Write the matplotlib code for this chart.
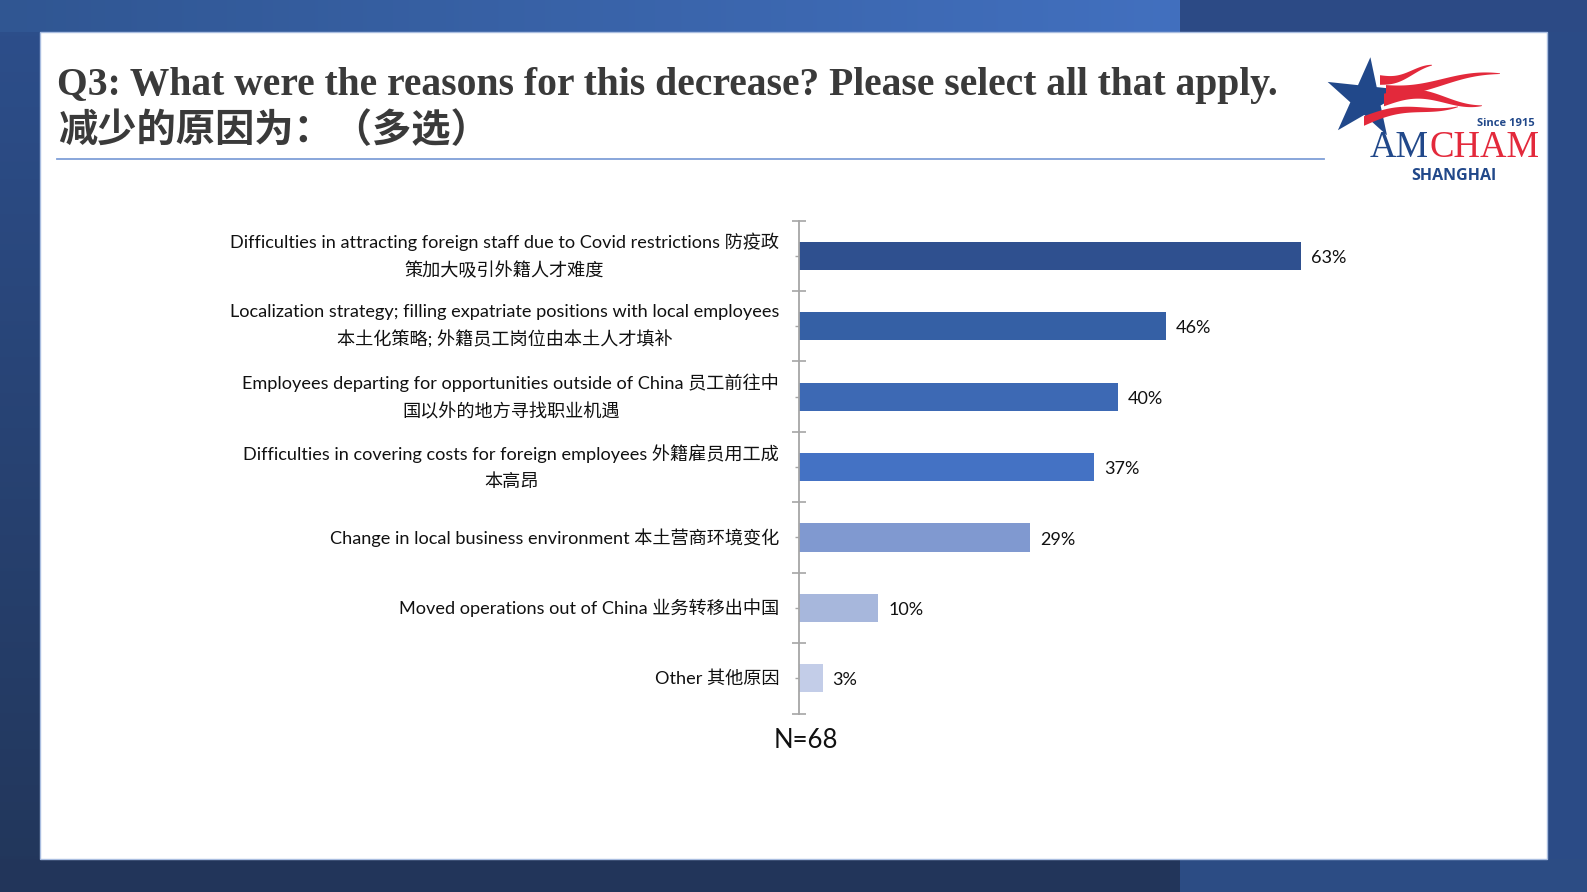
import numpy as np
import matplotlib
matplotlib.use("Agg")
from matplotlib import pyplot as plt
from matplotlib.patches import Rectangle, Polygon

# ---- data ----
reasons = [
    "Difficulties in attracting foreign staff due to Covid restrictions 防疫政\n策加大吸引外籍人才难度",
    "Localization strategy; filling expatriate positions with local employees\n本土化策略; 外籍员工岗位由本土人才填补",
    "Employees departing for opportunities outside of China 员工前往中\n国以外的地方寻找职业机遇",
    "Difficulties in covering costs for foreign employees 外籍雇员用工成\n本高昂",
    "Change in local business environment 本土营商环境变化",
    "Moved operations out of China 业务转移出中国",
    "Other 其他原因",
]
shares = [63, 46, 40, 37, 29, 10, 3]
bar_colors = ["#2f508f", "#3560a5", "#3d69b4", "#4472c4", "#8099d0", "#a7b7dc", "#c3cde8"]
sample_note = "N=68"
title_en = "Q3: What were the reasons for this decrease? Please select all that apply."
title_cn = "减少的原因为：（多选）"

W, H = 1587, 892
LAT = ["Lato", "Noto Sans CJK SC", "DejaVu Sans"]
fig = plt.figure(figsize=(W / 100, H / 100), dpi=100)

# ---- slide background (pixel coords) ----
bg = fig.add_axes([0, 0, 1, 1])
bg.set_xlim(0, W)
bg.set_ylim(H, 0)
bg.axis("off")


def hexrgb(h):
    h = h.lstrip("#")
    return np.array([int(h[i:i + 2], 16) / 255 for i in (0, 2, 4)])


yy = np.linspace(0, 1, H)[:, None, None]
img = hexrgb("#2d4f8c") * (1 - yy) + hexrgb("#22365a") * yy
img = np.repeat(img, W, axis=1)
xx = np.linspace(0, 1, 1180)[None, :, None]
img[:32, :1180] = hexrgb("#305692") * (1 - xx) + hexrgb("#4270bf") * xx
img[:32, 1180:] = hexrgb("#2c4a85")
img[859:, 1180:] = hexrgb("#2c4c84")
img[859:, :1180] = hexrgb("#22355a")
img[32:859, 1547:] = hexrgb("#2b4b86")
bg.imshow(img, extent=(0, W, H, 0), aspect="auto", zorder=0)
bg.add_patch(Rectangle((40, 32), 1507, 827, facecolor="white",
                       edgecolor="#a9bde0", lw=1, zorder=1))

# title
bg.text(57, 86, title_en, fontsize=28.5, fontweight="bold", color="#3a3a3a",
        family=["Liberation Serif"], va="center", ha="left", zorder=2)
bg.text(58, 131, title_cn, fontsize=28.3, fontweight="bold", color="#3a3a3a",
        family=["Noto Sans CJK SC"], va="center", ha="left", zorder=2)
bg.plot([57, 1324], [159, 159], color="#7f9fd8", lw=1.3, zorder=2)

# logo
navy = "#21488a"
red = "#e3293b"
ang = np.deg2rad(84 + np.arange(10) * 36)
rad = np.where(np.arange(10) % 2 == 0, 42, 16)
star = np.column_stack([1366 + rad * np.cos(ang), 99 - rad * np.sin(ang)])
bg.add_patch(Polygon(star, closed=True, facecolor=navy, edgecolor="none", zorder=3))


def streamer(x0, x1, y0, y1, amp, thick, phase=0.0):
    t = np.linspace(0, 1, 60)
    x = x0 + (x1 - x0) * t
    yc = y0 + (y1 - y0) * t + amp * np.sin(np.pi * (1.6 * t + phase))
    th = thick * (1 - t) ** 0.8 + 0.6
    top = np.column_stack([x, yc - th / 2])
    bot = np.column_stack([x[::-1], (yc + th / 2)[::-1]])
    return np.vstack([top, bot])


for x0, x1, y0, y1, amp, th, ph in [
        (1380, 1432, 80, 68, 3, 9, 0.0),
        (1386, 1500, 88, 76, 4, 10, 0.2),
        (1384, 1482, 100, 100, 6, 12, 1.0),
        (1364, 1458, 121, 103, -4, 9, 0.0)]:
    bg.add_patch(Polygon(streamer(x0, x1, y0, y1, amp, th, ph), closed=True,
                         facecolor=red, edgecolor="none", zorder=4))

bg.text(1535, 124, "Since 1915", fontsize=8, fontweight="bold", color=navy,
        family=["Open Sans"], ha="right", va="center", zorder=5)
t_am = bg.text(1370, 157, "AM", fontsize=26.5, color=navy, family=["Liberation Serif"],
               ha="left", va="baseline", zorder=5)
fig.canvas.draw()
bb = t_am.get_window_extent()
bg.text(1370 + bb.width, 157, "CHAM", fontsize=26.5, color=red,
        family=["Liberation Serif"], ha="left", va="baseline", zorder=5)
bg.text(1454, 176, "SHANGHAI", fontsize=11.5, fontweight="bold", color=navy,
        family=["Open Sans"], ha="center", va="center", zorder=5)

# ---- bar chart ----
ax = fig.add_axes([798.6 / W, 1 - 713.5 / H, 558.6 / W, (713.5 - 220.6) / H])
pos = np.arange(len(shares))
ax.barh(pos, shares, height=0.4, color=bar_colors, zorder=2)
ax.set_xlim(0, 70)
ax.set_ylim(len(shares) - 0.5, -0.5)

for s in ["top", "right", "bottom"]:
    ax.spines[s].set_visible(False)
ax.spines["left"].set_color("#a6a6a6")
ax.spines["left"].set_linewidth(1.3)
ax.set_xticks([])
ax.set_yticks(np.arange(-0.5, len(shares), 1.0))
ax.set_yticks(pos, minor=True)
ax.set_yticklabels([])
ax.tick_params(axis="y", which="major", direction="inout", length=10,
               width=1.2, color="#a6a6a6")
ax.tick_params(axis="y", which="minor", direction="inout", length=6,
               width=1.0, color="#a6a6a6")

for i, (lab, v) in enumerate(zip(reasons, shares)):
    ax.text(-2.45, i, lab, ha="right", va="center", multialignment="center",
            fontsize=13.1, family=LAT, color="#111111", linespacing=1.75,
            clip_on=False)
    ax.text(v + 1.25, i + 0.03, f"{v}%", ha="left", va="center", fontsize=13,
            family=LAT, color="#111111")

bg.text(806, 741, sample_note, fontsize=18.5, family=LAT, color="#111111",
        ha="center", va="center", zorder=5)

fig.savefig("out.png", dpi=100)
